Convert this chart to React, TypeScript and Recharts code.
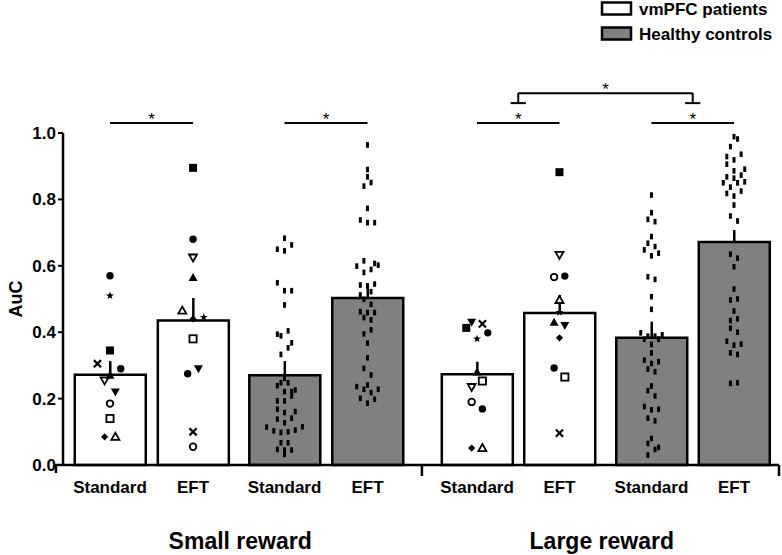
import React from 'react';
import {
  Bar,
  Cell,
  ComposedChart,
  ErrorBar,
  Legend,
  ReferenceDot,
  ReferenceLine,
  Scatter,
  XAxis,
  YAxis,
} from 'recharts';

const FONT = '"Liberation Sans", Arial, sans-serif';

// groups and conditions
const groups = ['vmPFC patients', 'Healthy controls'];
const groupFills = ['#ffffff', '#808080'];
const rewards = ['Small reward', 'Large reward'];
const conditions = ['Standard', 'EFT', 'Standard', 'EFT', 'Standard', 'EFT', 'Standard', 'EFT'];
const barGroup = [0, 0, 1, 1, 0, 0, 1, 1];

// bar means and SEM (upper whisker only)
const means = [0.272, 0.435, 0.27, 0.503, 0.273, 0.458, 0.383, 0.672];
const sem = [0.041, 0.068, 0.043, 0.045, 0.038, 0.054, 0.049, 0.036];

// individual patients, one marker each
const patientMarks = ['dot', 'star', 'sqF', 'cross', 'dot2', 'triDO', 'triDF', 'ring', 'sqO', 'diam', 'triUO', 'triUF'];
const ptSmallStd = [0.57, 0.51, 0.345, 0.305, 0.29, 0.255, 0.22, 0.185, 0.14, 0.085, 0.085, 0.27];
const ptSmallEft = [0.68, 0.445, 0.895, 0.1, 0.275, 0.625, 0.29, 0.055, 0.38, 0.44, 0.465, 0.565];
const ptLargeStd = [0.398, 0.38, 0.413, 0.425, 0.169, 0.235, 0.43, 0.19, 0.253, 0.051, 0.051, 0.28];
const ptLargeEft = [0.569, 0.46, 0.882, 0.096, 0.292, 0.633, 0.42, 0.566, 0.265, 0.383, 0.497, 0.43];
// horizontal jitter steps
const ptSmallStdJit = [0, 0, 0, -3.5, 3, -1.5, 1.5, 0, 0, -1.5, 1.5, 0];
const ptSmallEftJit = [0, 3, 0, 0, -1.5, 0, 1.5, 0, 0, 0, -3, 0];
const ptLargeStdJit = [3, 0, -3, 1.5, 1.5, -1.5, -1.5, -1.5, 1.5, -1.5, 1.5, 0];
const ptLargeEftJit = [1.5, 0, 0, 0, -1.5, 0, 1.5, -1.5, 1.5, 0, 0, -1.5];

// healthy controls: [value, jitter step]
const ctSmallStd = [
  [0.683, 0], [0.65, -2], [0.645, 0], [0.663, 2], [0.549, -2], [0.525, 0], [0.525, 2], [0.482, 0],
  [0.394, -2], [0.389, -1], [0.404, 1], [0.368, 2], [0.353, 1], [0.333, -1], [0.261, 0], [0.248, -1],
  [0.248, 1], [0.239, -2], [0.221, 0], [0.221, 2], [0.226, 3], [0.193, -2], [0.193, 0], [0.208, 2],
  [0.168, -2], [0.158, 0], [0.161, 3], [0.138, -2], [0.127, 0], [0.141, 2], [0.114, -5], [0.103, -3],
  [0.098, -1], [0.1, 1], [0.105, 3], [0.115, 5], [0.067, -1], [0.067, 1], [0.047, -2], [0.045, 0],
  [0.045, 2], [0.032, 0],
];
const ctSmallEft = [
  [0.964, 0], [0.89, 0], [0.868, 0], [0.851, 1], [0.84, -1], [0.773, 0], [0.738, -2], [0.73, 0],
  [0.73, 2], [0.615, -1], [0.599, -3], [0.607, 2], [0.602, 3], [0.589, 1], [0.58, -1], [0.542, -2],
  [0.539, 0], [0.545, 2], [0.512, -2], [0.522, 1], [0.499, -1], [0.484, 1], [0.462, -2], [0.459, 0],
  [0.459, 2], [0.444, -1], [0.437, 1], [0.395, -1], [0.407, 1], [0.367, 0], [0.323, 0], [0.291, -1],
  [0.271, 1], [0.236, -3], [0.228, -1], [0.241, 0], [0.218, 1], [0.228, 3], [0.201, -2], [0.198, 2],
  [0.186, 0],
];
const ctLargeStd = [
  [0.813, 0], [0.76, 0], [0.74, -1], [0.733, 1], [0.688, 0], [0.668, -1], [0.658, 1], [0.648, -2],
  [0.638, 2], [0.63, 0], [0.567, -1], [0.559, 1], [0.507, 0], [0.469, 0], [0.398, -3], [0.379, -2],
  [0.388, -1], [0.388, 1], [0.379, 2], [0.392, 3], [0.363, 0], [0.338, 0], [0.316, -2], [0.306, 0],
  [0.311, 2], [0.289, -1], [0.281, 1], [0.238, 0], [0.224, -1], [0.208, 1], [0.176, -2], [0.166, 0],
  [0.168, 2], [0.141, -1], [0.133, 1], [0.08, 0], [0.065, -1], [0.053, 2], [0.047, 1], [0.03, -1],
];
const ctLargeEft = [
  [0.989, 0], [0.982, 1], [0.959, -1], [0.936, 2], [0.929, -2], [0.919, 0], [0.906, -2], [0.886, 0],
  [0.891, 3], [0.868, -2], [0.873, 2], [0.864, 0], [0.85, -3], [0.85, 1], [0.853, 3], [0.837, -1],
  [0.825, 2], [0.818, -2], [0.81, 0], [0.783, 0], [0.75, -1], [0.735, 1], [0.635, -1], [0.623, 1],
  [0.597, 0], [0.53, 0], [0.497, -1], [0.5, 1], [0.464, 0], [0.435, -1], [0.44, 1], [0.412, -1],
  [0.4, 1], [0.373, -2], [0.361, 0], [0.364, 2], [0.338, -1], [0.333, 1], [0.246, -1], [0.248, 1],
];

// significance: pairs of bars, and one bracket between two pairs
const pairs = [[0, 1], [2, 3], [4, 5], [6, 7]];
const bracket = [[4, 5], [6, 7]];

// layout on the x scale (one unit ~ 89.5px)
const slots = [0.525, 1.453, 2.475, 3.402, 4.626, 5.547, 6.575, 7.497];
const rewardCenters = [1.98, 6.02];
const boundaries = [0, 4.01, 8];
const JIT = 0.04;
const PAIR_Y = 1.03;
const BRACKET_Y = 1.12;
const FOOT_Y = 1.09;

const barRows = conditions.map((c, i) => ({ x: slots[i], v: means[i], err: [0, sem[i]], g: barGroup[i] }));

const ptCols = [
  { slot: 0, vals: ptSmallStd, jit: ptSmallStdJit },
  { slot: 1, vals: ptSmallEft, jit: ptSmallEftJit },
  { slot: 4, vals: ptLargeStd, jit: ptLargeStdJit },
  { slot: 5, vals: ptLargeEft, jit: ptLargeEftJit },
];
const patientRows = ptCols.flatMap((col) =>
  col.vals.map((v, i) => ({ x: slots[col.slot] + col.jit[i] * JIT, v, m: patientMarks[i] })),
);

const ctCols = [
  { slot: 2, pts: ctSmallStd },
  { slot: 3, pts: ctSmallEft },
  { slot: 6, pts: ctLargeStd },
  { slot: 7, pts: ctLargeEft },
];
const controlRows = ctCols.flatMap((col) => col.pts.map(([v, j]) => ({ x: slots[col.slot] + j * JIT, v })));

const tickInfo = new Map<number, { kind: string; label: string }>();
slots.forEach((s, i) => tickInfo.set(s, { kind: 'cond', label: conditions[i] }));
rewardCenters.forEach((s, i) => tickInfo.set(s, { kind: 'reward', label: rewards[i] }));
boundaries.forEach((s, i) => tickInfo.set(s, { kind: i === 0 ? 'start' : 'bound', label: '' }));
const xTicks = [...tickInfo.keys()].sort((a, b) => a - b);

function XTick(props: any) {
  const { x, y, payload } = props;
  const info = tickInfo.get(payload.value);
  if (!info) return null;
  if (info.kind === 'cond') {
    return (
      <text x={x} y={y + 28} textAnchor="middle" fontFamily={FONT} fontWeight={700} fontSize={17} fill="#000">
        {info.label}
      </text>
    );
  }
  if (info.kind === 'reward') {
    return (
      <text x={x} y={y + 84} textAnchor="middle" fontFamily={FONT} fontWeight={700} fontSize={23} fill="#000">
        {info.label}
      </text>
    );
  }
  if (info.kind === 'start') {
    return (
      <g>
        <line x1={x - 7} x2={x} y1={y} y2={y} stroke="#000" strokeWidth={2.5} />
        <line x1={x - 7} x2={x - 7} y1={y - 1} y2={y + 8} stroke="#000" strokeWidth={2.5} />
      </g>
    );
  }
  return <line x1={x} x2={x} y1={y} y2={y + 11} stroke="#000" strokeWidth={2.5} />;
}

function starPath(cx: number, cy: number, ro: number, ri: number) {
  let d = '';
  for (let k = 0; k < 10; k++) {
    const r = k % 2 === 0 ? ro : ri;
    const a = -Math.PI / 2 + (k * Math.PI) / 5;
    d += `${k === 0 ? 'M' : 'L'}${cx + r * Math.cos(a)},${cy + r * Math.sin(a)}`;
  }
  return d + 'Z';
}

function PatientMark(props: any) {
  const { cx, cy, payload } = props;
  if (cx == null || cy == null) return null;
  const sw = 1.8;
  switch (payload.m) {
    case 'dot':
    case 'dot2':
      return <circle cx={cx} cy={cy} r={3.7} fill="#000" />;
    case 'ring':
      return <circle cx={cx} cy={cy} r={3.3} fill="#fff" stroke="#000" strokeWidth={sw} />;
    case 'sqF':
      return <rect x={cx - 4} y={cy - 4} width={8} height={8} fill="#000" />;
    case 'sqO':
      return <rect x={cx - 3.6} y={cy - 3.6} width={7.2} height={7.2} fill="#fff" stroke="#000" strokeWidth={sw} />;
    case 'diam':
      return <path d={`M${cx},${cy - 3.6}L${cx + 3.6},${cy}L${cx},${cy + 3.6}L${cx - 3.6},${cy}Z`} fill="#000" />;
    case 'cross':
      return (
        <path
          d={`M${cx - 3.6},${cy - 3.6}L${cx + 3.6},${cy + 3.6}M${cx - 3.6},${cy + 3.6}L${cx + 3.6},${cy - 3.6}`}
          stroke="#000"
          strokeWidth={2.2}
        />
      );
    case 'triUF':
      return <path d={`M${cx},${cy - 4.5}L${cx + 4.5},${cy + 3.5}L${cx - 4.5},${cy + 3.5}Z`} fill="#000" />;
    case 'triUO':
      return (
        <path d={`M${cx},${cy - 4}L${cx + 4},${cy + 3}L${cx - 4},${cy + 3}Z`} fill="#fff" stroke="#000" strokeWidth={sw} />
      );
    case 'triDF':
      return <path d={`M${cx},${cy + 4.5}L${cx + 4.5},${cy - 3.5}L${cx - 4.5},${cy - 3.5}Z`} fill="#000" />;
    case 'triDO':
      return (
        <path d={`M${cx},${cy + 4}L${cx + 4},${cy - 3}L${cx - 4},${cy - 3}Z`} fill="#fff" stroke="#000" strokeWidth={sw} />
      );
    case 'star':
      return <path d={starPath(cx, cy, 4.2, 1.7)} fill="#000" />;
    default:
      return null;
  }
}

function ControlMark(props: any) {
  const { cx, cy } = props;
  if (cx == null || cy == null) return null;
  return <rect x={cx - 1.5} y={cy - 2.8} width={3} height={5.6} fill="#000" />;
}

function Asterisk(props: any) {
  const { cx, cy } = props;
  return (
    <text x={cx} y={cy + 2} textAnchor="middle" fontFamily={FONT} fontSize={17} fill="#000">
      *
    </text>
  );
}

function AxisTitle(props: any) {
  const { viewBox } = props;
  const cx = 16;
  const cy = viewBox.y + viewBox.height / 2;
  return (
    <text
      x={cx}
      y={cy}
      transform={`rotate(-90 ${cx} ${cy})`}
      textAnchor="middle"
      dominantBaseline="central"
      fontFamily={FONT}
      fontWeight={700}
      fontSize={18}
      fill="#000"
    >
      AuC
    </text>
  );
}

function LegendBox() {
  return (
    <svg width={182} height={44}>
      {groups.map((g, i) => (
        <g key={g}>
          <rect x={3} y={2.5 + i * 25} width={29} height={12} fill={groupFills[i]} stroke="#000" strokeWidth={2.5} />
          <text x={40} y={14.5 + i * 25} fontFamily={FONT} fontWeight={700} fontSize={17} fill="#000">
            {g}
          </text>
        </g>
      ))}
    </svg>
  );
}

export default function App() {
  const lineProps = { stroke: '#000', strokeWidth: 2, ifOverflow: 'visible' as const, xAxisId: 'lab' };
  return (
    <div style={{ position: 'absolute', left: 0, top: 0, width: 782, height: 555, background: '#fff' }}>
      <ComposedChart width={782} height={555} data={barRows} margin={{ top: 133, right: 3, bottom: 0, left: 0 }}>
        <XAxis xAxisId="bars" type="number" dataKey="x" domain={[0, 8]} ticks={slots} height={0} hide />
        <XAxis
          xAxisId="lab"
          type="number"
          dataKey="x"
          domain={[0, 8]}
          ticks={xTicks}
          interval={0}
          height={90}
          tickLine={false}
          tickSize={0}
          tickMargin={0}
          tick={<XTick />}
          axisLine={{ stroke: '#000', strokeWidth: 2.5 }}
        />
        <YAxis
          type="number"
          domain={[0, 1]}
          ticks={[0, 0.2, 0.4, 0.6, 0.8, 1.0]}
          tickFormatter={(v: number) => v.toFixed(1)}
          width={63}
          tickSize={5}
          tickMargin={2}
          axisLine={{ stroke: '#000', strokeWidth: 2.5 }}
          tickLine={{ stroke: '#000', strokeWidth: 2 }}
          tick={{ fill: '#000', fontSize: 17, fontWeight: 700, fontFamily: FONT }}
          label={<AxisTitle />}
        />
        <Legend
          layout="vertical"
          align="center"
          verticalAlign="middle"
          content={<LegendBox />}
          wrapperStyle={{ left: 599, top: 0, width: 183 }}
        />
        <Bar xAxisId="bars" dataKey="v" barSize={71} stroke="#000" strokeWidth={2.5} isAnimationActive={false}>
          {barRows.map((r, i) => (
            <Cell key={i} fill={groupFills[r.g]} />
          ))}
          <ErrorBar dataKey="err" direction="y" width={0} stroke="#000" strokeWidth={2.5} />
        </Bar>
        <Scatter xAxisId="lab" data={controlRows} dataKey="v" shape={<ControlMark />} isAnimationActive={false} />
        <Scatter xAxisId="lab" data={patientRows} dataKey="v" shape={<PatientMark />} isAnimationActive={false} />
        {pairs.map(([a, b]) => (
          <ReferenceLine
            key={`p${a}`}
            segment={[{ x: slots[a], y: PAIR_Y }, { x: slots[b], y: PAIR_Y }]}
            {...lineProps}
          />
        ))}
        {pairs.map(([a, b]) => (
          <ReferenceDot
            key={`s${a}`}
            xAxisId="lab"
            x={(slots[a] + slots[b]) / 2}
            y={PAIR_Y}
            r={0}
            ifOverflow="visible"
            shape={<Asterisk />}
          />
        ))}
        {bracket.map((pr) => {
          const m = (slots[pr[0]] + slots[pr[1]]) / 2;
          return (
            <React.Fragment key={`b${pr[0]}`}>
              <ReferenceLine segment={[{ x: m, y: BRACKET_Y }, { x: m, y: FOOT_Y }]} {...lineProps} />
              <ReferenceLine segment={[{ x: m - 0.085, y: FOOT_Y }, { x: m + 0.085, y: FOOT_Y }]} {...lineProps} />
            </React.Fragment>
          );
        })}
        <ReferenceLine
          segment={[
            { x: (slots[bracket[0][0]] + slots[bracket[0][1]]) / 2, y: BRACKET_Y },
            { x: (slots[bracket[1][0]] + slots[bracket[1][1]]) / 2, y: BRACKET_Y },
          ]}
          {...lineProps}
        />
        <ReferenceDot
          xAxisId="lab"
          x={(slots[bracket[0][0]] + slots[bracket[0][1]] + slots[bracket[1][0]] + slots[bracket[1][1]]) / 4}
          y={BRACKET_Y}
          r={0}
          ifOverflow="visible"
          shape={<Asterisk />}
        />
      </ComposedChart>
    </div>
  );
}
